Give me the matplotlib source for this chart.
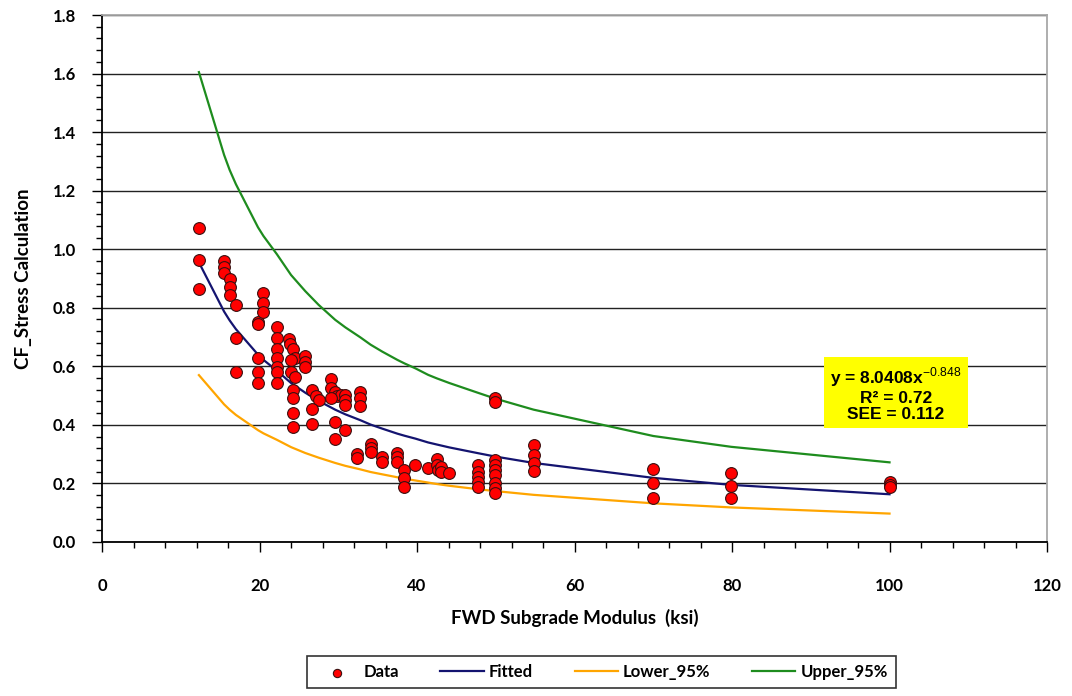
import numpy as np
import matplotlib
matplotlib.use("Agg")
import matplotlib.pyplot as plt

plt.rcParams['font.family'] = ['Lato', 'DejaVu Sans']
plt.rcParams['mathtext.fontset'] = 'custom'
plt.rcParams['mathtext.rm'] = 'Liberation Sans'

# measured points (FWD subgrade modulus, CF stress)
data_x = [12.3, 12.3, 12.3,
          15.5, 15.5, 15.5, 16.2, 16.2, 16.2, 17.0, 17.0, 17.0,
          19.8, 19.8, 19.8, 19.8, 19.8, 20.5, 20.5, 20.5,
          22.2, 22.2, 22.2, 22.2, 22.2, 22.2, 22.2,
          23.7, 23.9, 24.2, 24.5, 24.0, 24.0, 24.5, 24.3, 24.3, 24.3, 24.3,
          25.8, 25.8, 25.8, 26.7, 27.2, 27.5, 26.7, 26.7,
          29.1, 29.1, 29.6, 29.8, 30.3, 30.9, 30.9, 30.9, 29.1,
          32.8, 32.8, 32.8, 29.6, 30.9, 29.6, 32.4, 32.4,
          34.1, 34.1, 34.1, 35.6, 35.6, 37.5, 37.5, 37.5,
          38.4, 38.4, 38.4, 39.8, 41.4, 42.5, 42.5, 42.7, 43.1, 43.1, 44.1,
          47.8, 47.8, 47.8, 47.8, 47.8,
          49.9, 49.9, 49.9, 49.9, 49.9, 49.9, 49.9, 49.9, 49.9,
          54.8, 54.8, 54.8, 54.8,
          70.0, 70.0, 70.0, 79.9, 79.9, 79.9, 100.0, 100.0, 100.0]
data_y = [1.072, 0.962, 0.863,
          0.96, 0.94, 0.92, 0.897, 0.870, 0.842, 0.808, 0.698, 0.579,
          0.75, 0.743, 0.630, 0.579, 0.544, 0.849, 0.818, 0.784,
          0.733, 0.698, 0.658, 0.630, 0.599, 0.579, 0.544,
          0.692, 0.675, 0.658, 0.630, 0.62, 0.579, 0.565, 0.52, 0.493, 0.442, 0.394,
          0.634, 0.616, 0.599, 0.52, 0.497, 0.486, 0.455, 0.404,
          0.558, 0.527, 0.514, 0.497, 0.503, 0.503, 0.486, 0.469, 0.493,
          0.514, 0.493, 0.466, 0.411, 0.384, 0.353, 0.301, 0.288,
          0.336, 0.322, 0.308, 0.291, 0.274, 0.305, 0.291, 0.274,
          0.247, 0.219, 0.188, 0.264, 0.253, 0.284, 0.264, 0.247, 0.257, 0.240, 0.236,
          0.264, 0.240, 0.223, 0.205, 0.188,
          0.493, 0.479, 0.281, 0.264, 0.247, 0.229, 0.202, 0.185, 0.168,
          0.332, 0.298, 0.271, 0.243,
          0.250, 0.202, 0.151, 0.236, 0.192, 0.151, 0.205, 0.195, 0.188]

# fitted curve and 95% bounds
curve_x = [12.3, 15.5, 16.2, 17.0, 19.8, 20.5, 22.2, 24.0, 25.8, 27.5, 29.6,
           30.9, 32.8, 34.1, 35.6, 37.5, 38.4, 39.8, 41.4, 42.5, 44.1, 47.8,
           49.9, 54.8, 70.0, 79.9, 100.0]
fitted = [0.955, 0.787, 0.757, 0.727, 0.640, 0.622, 0.585, 0.543, 0.510, 0.482,
          0.452, 0.436, 0.416, 0.401, 0.387, 0.370, 0.363, 0.353, 0.340, 0.333,
          0.323, 0.303, 0.292, 0.270, 0.219, 0.195, 0.163]
lower = [0.570, 0.470, 0.452, 0.434, 0.382, 0.371, 0.349, 0.324, 0.304, 0.288,
         0.270, 0.260, 0.248, 0.239, 0.231, 0.221, 0.216, 0.210, 0.203, 0.198,
         0.192, 0.180, 0.174, 0.161, 0.132, 0.118, 0.097]
upper = [1.605, 1.322, 1.271, 1.222, 1.075, 1.045, 0.983, 0.912, 0.857, 0.810,
         0.759, 0.733, 0.699, 0.674, 0.650, 0.622, 0.610, 0.593, 0.571, 0.559,
         0.543, 0.509, 0.490, 0.452, 0.362, 0.325, 0.272]

fit_text = "y = 8.0408x$^{-0.848}$\nR\u00b2 = 0.72\nSEE = 0.112"

fig = plt.figure(figsize=(10.72, 6.96), dpi=100)
ax = fig.add_axes([0.0952, 0.2213, 0.8815, 0.7571])

ax.plot(curve_x, fitted, color='#141470', lw=1.6, label='Fitted', zorder=3)
ax.plot(curve_x, lower, color='#FFA500', lw=1.6, label='Lower_95%', zorder=3)
ax.plot(curve_x, upper, color='#1E8C1E', lw=1.6, label='Upper_95%', zorder=3)
ax.scatter(data_x, data_y, s=72, color='#FF0000', edgecolor='#3a1010',
           linewidth=0.8, label='Data', zorder=4)

ax.set_xlim(0, 120)
ax.set_ylim(0, 1.8)
ax.set_xticks(np.arange(0, 121, 20))
ax.set_xticks(np.arange(0, 121, 4), minor=True)
ax.set_yticks(np.arange(0, 1.81, 0.2))
ax.set_yticks(np.arange(0, 1.81, 0.04), minor=True)
ax.set_yticklabels(['%.1f' % v for v in np.arange(0, 1.81, 0.2)])
ax.tick_params(axis='both', which='major', direction='out', length=7, width=1,
               labelsize=12)
ax.tick_params(axis='both', which='minor', direction='out', length=4, width=1)
ax.tick_params(axis='x', pad=19)
ax.tick_params(axis='y', pad=12)
for lbl in ax.get_xticklabels() + ax.get_yticklabels():
    lbl.set_fontweight('bold')

ax.yaxis.grid(True, color='#222222', lw=1.0)
ax.spines['left'].set_color('black')
ax.spines['bottom'].set_color('black')
ax.spines['top'].set_color('#a8a8a8')
ax.spines['right'].set_color('#a8a8a8')
for s in ax.spines.values():
    s.set_linewidth(1.3)

ax.set_xlabel('FWD Subgrade Modulus  (ksi)', fontsize=13.5, fontweight='bold',
              labelpad=11)
ax.set_ylabel('CF_Stress Calculation', fontsize=13.5, fontweight='bold',
              labelpad=15)

ax.text(100.8, 0.505, fit_text, ha='center', va='center', multialignment='center',
        fontsize=12.5, fontweight='bold', family='Liberation Sans', linespacing=1.12,
        bbox=dict(boxstyle='square,pad=0.35', facecolor='#FFFF00', edgecolor='none'),
        zorder=5)

h, l = ax.get_legend_handles_labels()
order = [3, 0, 1, 2]
leg = fig.legend([h[i] for i in order], [l[i] for i in order], ncol=4,
                 loc='center', bbox_to_anchor=(0.561, 0.0345),
                 frameon=True, fancybox=False, edgecolor='black',
                 handlelength=2.6, handletextpad=0.3, columnspacing=2.5,
                 borderpad=0.5, markerscale=0.7,
                 prop={'weight': 'bold', 'size': 12})
leg.get_frame().set_linewidth(1.2)

fig.savefig('out.png', dpi=100)
